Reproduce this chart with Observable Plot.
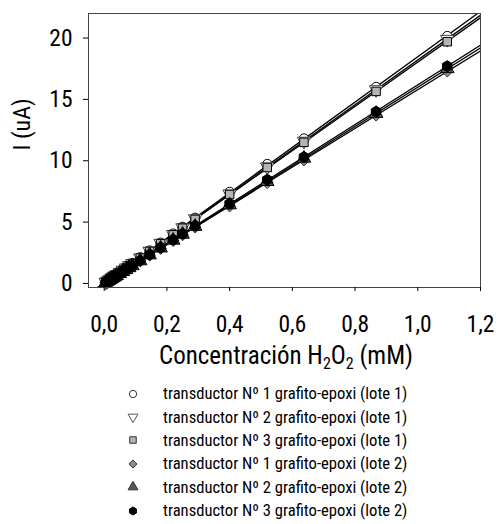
<!DOCTYPE html>
<html>
<head>
<meta charset="utf-8">
<script src="https://cdn.jsdelivr.net/npm/d3@7"></script>
<script src="https://cdn.jsdelivr.net/npm/@observablehq/plot@0.6"></script>
<style>
  html, body { margin: 0; padding: 0; background: #fff; }
  body { width: 498px; height: 524px; overflow: hidden; font-family: "Roboto Condensed", Roboto, sans-serif; font-stretch: condensed; }
  svg text { font-stretch: condensed; }
  #legend { position: relative; margin-top: 2px; }
  .row { display: flex; align-items: center; height: 23.4px; }
  .row svg { margin-left: 126px; width: 14px; height: 14px; }
  .row span { margin-left: 23px; font-size: 16.6px; color: #000; }
</style>
</head>
<body>
<div id="chart"></div>
<div id="legend"></div>
<script>
// Concentration of H2O2 (mM)
const conc = [0.005, 0.01, 0.015, 0.02, 0.025, 0.03, 0.035, 0.04, 0.05, 0.06, 0.07, 0.08, 0.09, 0.115, 0.145, 0.18, 0.22, 0.25, 0.29, 0.40, 0.52, 0.637, 0.867, 1.094];

// Current I (uA) per transducer
const t1_lote1 = [0.09, 0.18, 0.27, 0.36, 0.45, 0.55, 0.64, 0.73, 0.92, 1.10, 1.29, 1.47, 1.65, 2.12, 2.67, 3.31, 4.05, 4.60, 5.34, 7.45, 9.72, 11.8, 16.0, 20.15];
const t2_lote1 = [0.09, 0.18, 0.27, 0.36, 0.46, 0.55, 0.64, 0.73, 0.91, 1.09, 1.27, 1.46, 1.64, 2.09, 2.64, 3.28, 4.00, 4.55, 5.28, 7.30, 9.50, 11.6, 15.8, 19.9];
const t3_lote1 = [0.09, 0.18, 0.27, 0.36, 0.45, 0.54, 0.63, 0.72, 0.90, 1.08, 1.26, 1.44, 1.62, 2.07, 2.61, 3.24, 3.96, 4.50, 5.22, 7.25, 9.45, 11.5, 15.65, 19.7];
const t1_lote2 = [0.08, 0.16, 0.24, 0.32, 0.40, 0.47, 0.55, 0.63, 0.79, 0.95, 1.11, 1.26, 1.42, 1.82, 2.29, 2.84, 3.48, 3.95, 4.58, 6.30, 8.20, 10.05, 13.7, 17.3];
const t2_lote2 = [0.08, 0.16, 0.24, 0.32, 0.40, 0.48, 0.56, 0.64, 0.80, 0.96, 1.12, 1.28, 1.44, 1.84, 2.32, 2.88, 3.52, 4.00, 4.64, 6.40, 8.30, 10.2, 13.85, 17.5];
const t3_lote2 = [0.08, 0.16, 0.24, 0.32, 0.40, 0.49, 0.57, 0.65, 0.81, 0.97, 1.13, 1.30, 1.46, 1.86, 2.35, 2.92, 3.56, 4.05, 4.70, 6.50, 8.45, 10.3, 14.0, 17.7];

const seriesNames = [
  "transductor Nº 1 grafito-epoxi (lote 1)",
  "transductor Nº 2 grafito-epoxi (lote 1)",
  "transductor Nº 3 grafito-epoxi (lote 1)",
  "transductor Nº 1 grafito-epoxi (lote 2)",
  "transductor Nº 2 grafito-epoxi (lote 2)",
  "transductor Nº 3 grafito-epoxi (lote 2)"
];
const xTicks = [0, 0.2, 0.4, 0.6, 0.8, 1.0, 1.2];
const yTicks = [0, 5, 10, 15, 20];

// custom downward triangle
const triangleDown = {
  draw(context, size) {
    const y = -Math.sqrt(size / (Math.sqrt(3) * 3));
    context.moveTo(0, -y * 2);
    context.lineTo(-Math.sqrt(3) * y, y);
    context.lineTo(Math.sqrt(3) * y, y);
    context.closePath();
  }
};
// pointy-top hexagon
const hexagonUp = {
  draw(c, size) {
    const r = Math.sqrt(size / (3 * Math.sqrt(3) / 2));
    for (let k = 0; k < 6; k++) {
      const a = Math.PI / 3 * k;
      const px = r * Math.sin(a), py = -r * Math.cos(a);
      k ? c.lineTo(px, py) : c.moveTo(px, py);
    }
    c.closePath();
  }
};

const styles = [
  {symbol: "circle", leg: d3.symbolCircle, fill: "#fff", stroke: "#000", r: 4.8},
  {symbol: triangleDown, leg: triangleDown, fill: "#fff", stroke: "#444", r: 5},
  {symbol: "square", leg: d3.symbolSquare, fill: "#b4b4b4", stroke: "#000", r: 4.8},
  {symbol: "diamond2", leg: d3.symbolDiamond2, fill: "#8c8c8c", stroke: "#333", r: 5.2},
  {symbol: "triangle", leg: d3.symbolTriangle, fill: "#5a5a5a", stroke: "#000", r: 5},
  {symbol: hexagonUp, leg: hexagonUp, fill: "#000", stroke: "#000", r: 5}
];
const values = [t1_lote1, t2_lote1, t3_lote1, t1_lote2, t2_lote2, t3_lote2];

const xDomain = [-0.05, 1.2];
const yDomain = [-0.33, 22];

function fit(xs, ys) {
  const mx = d3.mean(xs), my = d3.mean(ys);
  let sxy = 0, sxx = 0;
  for (let i = 0; i < xs.length; i++) { sxy += (xs[i]-mx)*(ys[i]-my); sxx += (xs[i]-mx)**2; }
  const b = sxy / sxx, a = my - b * mx;
  return xDomain.map(x => ({x, y: a + b * x}));
}

const lineMarks = values.map(v => Plot.line(fit(conc, v), {x: "x", y: "y", stroke: "#000", strokeWidth: 1.3, clip: true}));
const dotMarks = values.map((v, i) => Plot.dot(conc.map((c, j) => ({x: c, y: v[j]})), {
  x: "x", y: "y", symbol: () => styles[i].symbol, r: styles[i].r,
  fill: styles[i].fill, stroke: styles[i].stroke, strokeWidth: 1
}));

const fmt = d => d3.format(".1f")(d).replace(".", ",");
const FONT = '"Roboto Condensed", Roboto, sans-serif';

const chart = Plot.plot({
  width: 498,
  height: 380,
  marginLeft: 88,
  marginRight: 18,
  marginTop: 13,
  marginBottom: 93,
  style: {fontFamily: FONT, fontSize: "23.5px", color: "#000", background: "#fff"},
  x: {domain: xDomain},
  y: {domain: yDomain},
  symbol: {type: "identity"},
  marks: [
    ...lineMarks,
    ...dotMarks,
    Plot.frame({stroke: "#444"}),
    Plot.axisX({ticks: xTicks, tickFormat: fmt, tickSize: 4, tickPadding: 24, label: null, fontSize: 23.5}),
    Plot.axisY({ticks: yTicks, tickSize: 5, tickPadding: 11, label: null, fontSize: 23.5}),
    Plot.text(["I (uA)"], {frameAnchor: "left", dx: -66, rotate: -90, fontSize: 24, text: d => d})
  ]
});
document.getElementById("chart").appendChild(chart);

// x-axis label with subscripts
const svg = d3.select(chart);
const lab = svg.append("text")
  .attr("x", 286).attr("y", 364)
  .attr("text-anchor", "middle")
  .attr("font-size", 25)
  .attr("fill", "#000");
lab.append("tspan").text("Concentración H");
lab.append("tspan").attr("font-size", 16).attr("dy", 5).text("2");
lab.append("tspan").attr("dy", -5).text("O");
lab.append("tspan").attr("font-size", 16).attr("dy", 5).text("2");
lab.append("tspan").attr("dy", -5).text(" (mM)");

// Legend
const legend = d3.select("#legend");
seriesNames.forEach((name, i) => {
  const row = legend.append("div").attr("class", "row");
  const s = row.append("svg").attr("viewBox", "-7 -7 14 14");
  const st = styles[i];
  s.append("path")
    .attr("d", d3.symbol(st.leg, 42)())
    .attr("fill", st.fill)
    .attr("stroke", i === 1 ? "#555" : (i === 5 ? "#000" : "#333"))
    .attr("stroke-width", 1);
  row.append("span").text(name);
});
</script>
</body>
</html>
